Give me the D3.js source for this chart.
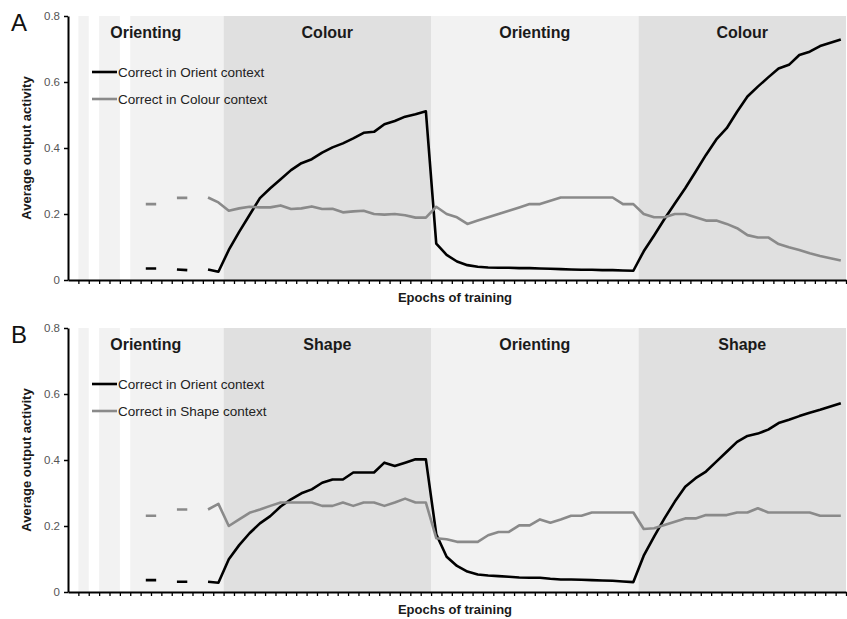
<!DOCTYPE html>
<html>
<head>
<meta charset="utf-8">
<script src="https://cdn.jsdelivr.net/npm/d3@7"></script>
<style>
  html, body { margin: 0; padding: 0; background: #ffffff; }
  svg { display: block; font-family: Arial, "Liberation Sans", sans-serif; }
</style>
</head>
<body>
<svg id="chart" width="847" height="619"></svg>
<script>
// ---------- DATA ----------
const epochCount = 75;
const yTicks = [0, 0.2, 0.4, 0.6, 0.8];
const yTickLabels = ["0", "0.2", "0.4", "0.6", "0.8"];

// background phases (in epoch units)
const phaseStart = [1, 3, 6, 15, 35, 55];
const phaseEnd   = [2, 5, 15, 35, 55, 75];
const phaseKind  = ["orient", "orient", "orient", "other", "orient", "other"];

// phase titles
const titleStart = [0, 15, 35, 55];
const titleEnd   = [15, 35, 55, 75];
const titlesA = ["Orienting", "Colour", "Orienting", "Colour"];
const titlesB = ["Orienting", "Shape", "Orienting", "Shape"];

const N = null;
// Panel A
const orientA = [N,N,N,N,N,N,N, 0.035,0.035,N,0.032,0.030,N,0.032,0.025,
  0.091,0.146,0.197,0.248,0.278,0.305,0.333,0.354,0.366,0.386,0.402,0.414,0.429,0.446,0.449,0.472,0.482,0.495,0.502,0.511,
  0.110,0.076,0.056,0.045,0.040,0.038,0.037,0.037,0.036,0.036,0.035,0.034,0.033,0.032,0.031,0.031,0.030,0.030,0.029,0.028,
  0.087,0.135,0.185,0.232,0.278,0.328,0.379,0.426,0.460,0.510,0.556,0.586,0.614,0.641,0.652,0.682,0.692,0.709,0.719,0.729];
const colourA = [N,N,N,N,N,N,N, 0.230,0.230,N,0.249,0.249,N,0.250,0.235,
  0.210,0.217,0.222,0.220,0.220,0.226,0.215,0.217,0.223,0.215,0.216,0.205,0.208,0.210,0.200,0.198,0.200,0.196,0.189,0.189,
  0.222,0.200,0.190,0.170,0.180,0.190,0.200,0.210,0.220,0.230,0.230,0.240,0.250,0.250,0.250,0.250,0.250,0.250,0.230,0.230,
  0.200,0.190,0.190,0.200,0.200,0.190,0.180,0.180,0.170,0.157,0.136,0.129,0.129,0.109,0.099,0.091,0.081,0.073,0.066,0.059];
// Panel B
const orientB = [N,N,N,N,N,N,N, 0.036,0.036,N,0.031,0.031,N,0.031,0.028,
  0.099,0.142,0.178,0.208,0.230,0.259,0.281,0.299,0.311,0.331,0.341,0.341,0.362,0.362,0.362,0.392,0.382,0.392,0.402,0.402,
  0.175,0.107,0.079,0.062,0.053,0.050,0.048,0.046,0.044,0.043,0.043,0.040,0.038,0.038,0.037,0.036,0.035,0.034,0.032,0.030,
  0.110,0.168,0.223,0.274,0.319,0.345,0.365,0.395,0.425,0.455,0.473,0.480,0.492,0.512,0.522,0.533,0.543,0.552,0.562,0.572];
const shapeB = [N,N,N,N,N,N,N, 0.231,0.231,N,0.250,0.250,N,0.250,0.267,
  0.200,0.220,0.240,0.250,0.261,0.271,0.271,0.271,0.271,0.261,0.261,0.271,0.261,0.271,0.271,0.261,0.271,0.283,0.271,0.271,
  0.163,0.160,0.152,0.152,0.152,0.172,0.182,0.182,0.202,0.202,0.220,0.210,0.220,0.231,0.231,0.241,0.241,0.241,0.241,0.241,
  0.191,0.193,0.203,0.213,0.223,0.223,0.233,0.233,0.233,0.241,0.241,0.254,0.241,0.241,0.241,0.241,0.241,0.231,0.231,0.231];

const legendA = ["Correct in Orient context", "Correct in Colour context"];
const legendB = ["Correct in Orient context", "Correct in Shape context"];

// ---------- DRAW ----------
const svg = d3.select("#chart");
svg.append("rect").attr("width", 847).attr("height", 619).attr("fill", "#ffffff");

const epochs = d3.range(epochCount);
const plotLeft = 68, plotRight = 846;
const xBand = d3.scaleBand().domain(epochs).range([plotLeft, plotRight]).padding(0);
const xLin = d3.scaleLinear().domain([0, epochCount]).range([plotLeft, plotRight]);

const lineColors = ["#000000", "#8a8a8a"];
const shade = { orient: "#f2f2f2", other: "#e0e0e0" };

function drawPanel(top, bottom, letter, titles, s1, s2, legendTexts) {
  const y = d3.scaleLinear().domain([0, 0.8]).range([bottom, top]);
  const g = svg.append("g");

  // background bands
  g.selectAll("rect.band").data(phaseStart).enter().append("rect")
    .attr("x", (d) => xLin(d))
    .attr("width", (d, i) => xLin(phaseEnd[i]) - xLin(d))
    .attr("y", y(0.8))
    .attr("height", y(0) - y(0.8))
    .attr("fill", (d, i) => shade[phaseKind[i]]);

  // phase titles
  g.selectAll("text.ptitle").data(titles).enter().append("text")
    .attr("x", (d, i) => (xLin(titleStart[i]) + xLin(titleEnd[i])) / 2)
    .attr("y", top + 22)
    .attr("text-anchor", "middle")
    .attr("font-size", "16px")
    .attr("font-weight", "bold")
    .attr("fill", "#1a1a1a")
    .text((d) => d);

  // lines
  const line = d3.line()
    .defined((d) => d !== null)
    .x((d, i) => xBand(i) + xBand.bandwidth() / 2)
    .y((d) => y(d));
  [s1, s2].forEach((s, k) => {
    g.append("path").datum(s)
      .attr("d", line)
      .attr("fill", "none")
      .attr("stroke", lineColors[k])
      .attr("stroke-width", 2.6)
      .attr("stroke-linejoin", "round");
  });

  // y axis
  const yAxis = d3.axisLeft(y).tickValues(yTicks)
    .tickFormat((d, i) => yTickLabels[i]).tickSize(4).tickSizeOuter(0).tickPadding(4);
  const ga = g.append("g").attr("transform", `translate(${plotLeft},0)`).call(yAxis);
  ga.select(".domain").attr("stroke", "#000").attr("stroke-width", 2);
  ga.selectAll(".tick line").attr("stroke", "#000").attr("stroke-width", 1.5);
  ga.selectAll(".tick text").attr("font-size", "11.5px").attr("fill", "#555")
    .attr("font-family", "Arial, 'Liberation Sans', sans-serif");

  // x axis
  const xAxis = d3.axisBottom(xLin).tickValues(d3.range(1, epochCount + 1))
    .tickFormat("").tickSize(4).tickSizeOuter(0);
  const gx = g.append("g").attr("transform", `translate(0,${bottom})`).call(xAxis);
  gx.select(".domain").attr("stroke", "#000").attr("stroke-width", 2);
  gx.selectAll(".tick line").attr("stroke", "#000").attr("stroke-width", 1.3);

  // axis titles
  g.append("text")
    .attr("transform", `translate(31,${(top + bottom) / 2}) rotate(-90)`)
    .attr("text-anchor", "middle")
    .attr("font-size", "13px").attr("font-weight", "bold").attr("fill", "#1a1a1a")
    .text("Average output activity");
  g.append("text")
    .attr("x", (plotLeft + plotRight) / 2 - 2)
    .attr("y", bottom + 22)
    .attr("text-anchor", "middle")
    .attr("font-size", "13px").attr("font-weight", "bold").attr("fill", "#1a1a1a")
    .text("Epochs of training");

  // panel letter
  g.append("text")
    .attr("x", 11).attr("y", top + 15)
    .attr("font-size", "24px").attr("fill", "#111")
    .text(letter);

  // legend
  const lg = g.append("g");
  legendTexts.forEach((t, k) => {
    const ly = top + 56 + k * 27;
    lg.append("line").attr("x1", 92).attr("x2", 117).attr("y1", ly).attr("y2", ly)
      .attr("stroke", lineColors[k]).attr("stroke-width", 2.6);
    lg.append("text").attr("x", 118).attr("y", ly + 5)
      .attr("font-size", "13.5px").attr("fill", "#222").text(t);
  });
}

drawPanel(16, 280, "A", titlesA, orientA, colourA, legendA);
drawPanel(328, 592, "B", titlesB, orientB, shapeB, legendB);
</script>
</body>
</html>
